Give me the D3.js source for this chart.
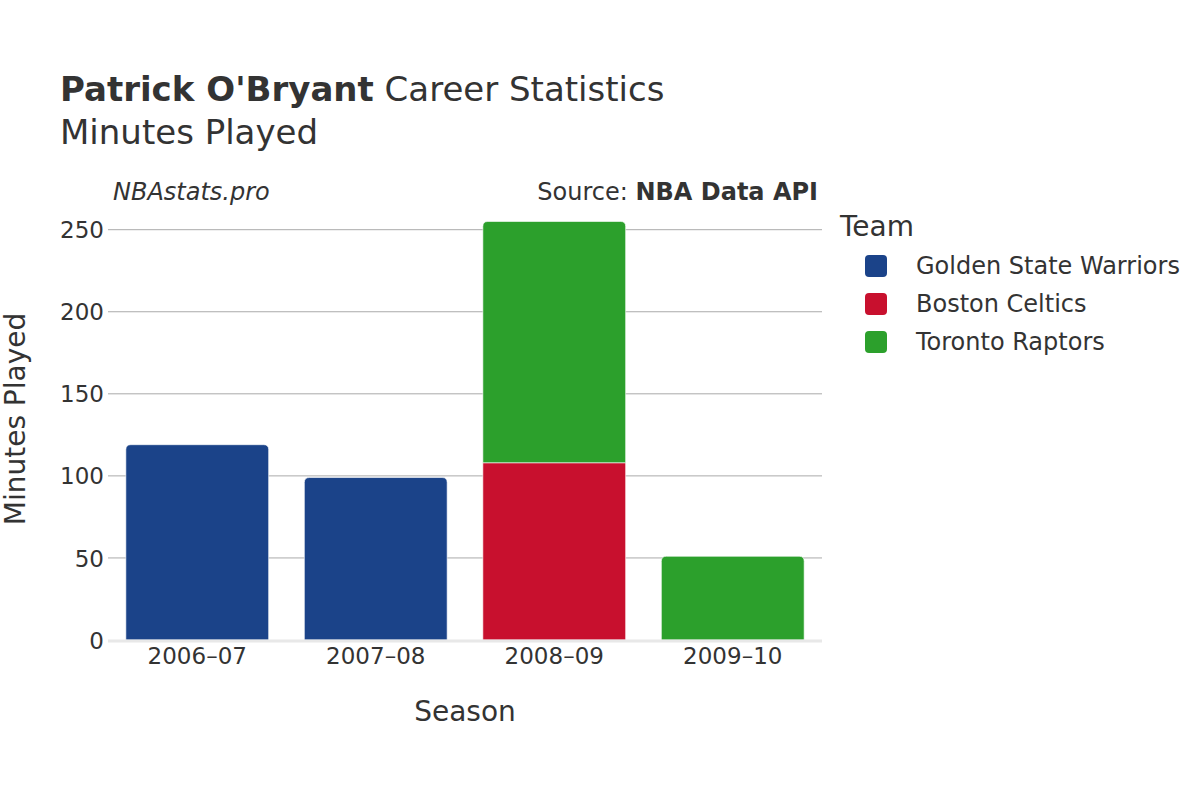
<!DOCTYPE html>
<html>
<head>
<meta charset="utf-8">
<script src="https://cdn.jsdelivr.net/npm/d3@7"></script>
<style>
  body { margin: 0; background: #fff; }
  text { font-family: "DejaVu Sans", sans-serif; fill: #333; }
</style>
</head>
<body>
<script>
// DATA
const seasons = ["2006–07", "2007–08", "2008–09", "2009–10"];
const teams = ["Golden State Warriors", "Boston Celtics", "Toronto Raptors"];
const teamColors = ["#1b4389", "#c8102e", "#2ca02c"];
const gswMinutes = [119, 99, 0, 0];
const bosMinutes = [0, 0, 108, 0];
const torMinutes = [0, 0, 147, 51];
const yTicks = [0, 50, 100, 150, 200, 250];

const svgwidth = 1200, svgheight = 800;
const margin = {top: 210, right: 378, bottom: 160, left: 108};
const graphwidth = svgwidth - margin.left - margin.right;
const graphheight = svgheight - margin.top - margin.bottom;

const svg = d3.select("body").append("svg")
  .attr("width", svgwidth)
  .attr("height", svgheight);

// titles
const title = svg.append("text").attr("x", 60).attr("y", 101).style("font-size", "34px");
title.append("tspan").style("font-weight", "bold").text("Patrick O'Bryant");
title.append("tspan").text(" Career Statistics");
svg.append("text").attr("x", 60).attr("y", 144).style("font-size", "34px").text("Minutes Played");

svg.append("text").attr("x", 113).attr("y", 200)
  .style("font-size", "24px").style("font-style", "italic").text("NBAstats.pro");
const src = svg.append("text").attr("x", 818).attr("y", 200)
  .attr("text-anchor", "end").style("font-size", "24px");
src.append("tspan").text("Source: ");
src.append("tspan").style("font-weight", "bold").text("NBA Data API");

const graph = svg.append("g").attr("transform", `translate(${margin.left},${margin.top})`);

// SCALES
const X = d3.scaleBand().domain(seasons).range([0, graphwidth]).paddingInner(0.2).paddingOuter(0.1);
const Y = d3.scaleLinear().domain([0, 262]).range([graphheight, 0]);

// grid
graph.append("g").selectAll("line")
  .data(yTicks.filter(d => d > 0))
  .join("line")
  .attr("x1", 0).attr("x2", graphwidth)
  .attr("y1", d => Y(d)).attr("y2", d => Y(d))
  .attr("stroke", "#aaa").attr("stroke-width", 1);

// Y AXIS
const yaxis = graph.append("g").call(d3.axisLeft(Y).tickValues(yTicks).tickSize(0).tickPadding(4));
yaxis.select(".domain").remove();
yaxis.selectAll("text").style("font-size", "23px").attr("dy", "0.35em");

// X AXIS
const xaxis = graph.append("g").attr("transform", `translate(0,${graphheight})`)
  .call(d3.axisBottom(X).tickSize(0).tickPadding(8));
xaxis.select(".domain").remove();
xaxis.selectAll("text").style("font-size", "23px");

// stacked bars
const rows = seasons.map((s, i) => ({season: s, 0: gswMinutes[i], 1: bosMinutes[i], 2: torMinutes[i]}));
const stack = d3.stack().keys([0, 1, 2])(rows);

const roundTop = (x, y0, w, h, r) => {
  r = Math.min(r, h / 2, w / 2);
  return `M${x},${y0 + h}V${y0 + r}Q${x},${y0} ${x + r},${y0}H${x + w - r}Q${x + w},${y0} ${x + w},${y0 + r}V${y0 + h}Z`;
};

stack.forEach((layer, k) => {
  graph.append("g").selectAll("path")
    .data(layer.filter(d => d[1] - d[0] > 0))
    .join("path")
    .attr("fill", teamColors[k])
    .attr("stroke", "#fff").attr("stroke-width", 0.6)
    .attr("d", d => {
      const isTop = d[1] === d3.sum([0, 1, 2], j => d.data[j]);
      const x = X(d.data.season), w = X.bandwidth();
      const y0 = Y(d[1]), h = Y(d[0]) - Y(d[1]);
      return isTop ? roundTop(x, y0, w, h, 5)
        : `M${x},${y0}H${x + w}V${y0 + h}H${x}Z`;
    });
});

// zero line
graph.append("line")
  .attr("x1", 0).attr("x2", graphwidth)
  .attr("y1", Y(0) + 1).attr("y2", Y(0) + 1)
  .attr("stroke", "#e8e8e8").attr("stroke-width", 3);

// axis titles
svg.append("text").attr("x", margin.left + graphwidth / 2).attr("y", 721)
  .attr("text-anchor", "middle").style("font-size", "28px").text("Season");
svg.append("text").attr("transform", `translate(25,419) rotate(-90)`)
  .attr("text-anchor", "middle").style("font-size", "28px").text("Minutes Played");

// LEGEND
const legend = svg.append("g").attr("transform", "translate(840,0)");
legend.append("text").attr("x", 0).attr("y", 236).style("font-size", "28px").text("Team");
const items = legend.selectAll("g.item").data(teams).join("g").attr("class", "item")
  .attr("transform", (d, i) => `translate(0,${266 + i * 38})`);
items.append("rect").attr("x", 25).attr("y", -11).attr("width", 22).attr("height", 22)
  .attr("rx", 4).attr("fill", (d, i) => teamColors[i]);
items.append("text").attr("x", 76).attr("dy", "0.35em").style("font-size", "24px").text(d => d);
</script>
</body>
</html>
